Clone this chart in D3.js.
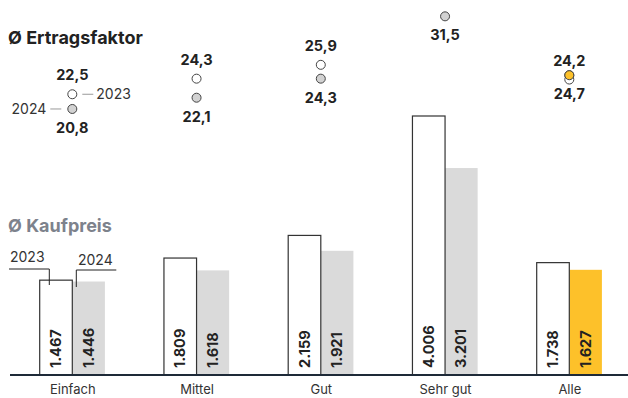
<!DOCTYPE html>
<html lang="de">
<head>
<meta charset="utf-8">
<title>Ertragsfaktor und Kaufpreis</title>
<script src="https://d3js.org/d3.v7.min.js"></script>
<style>
  body { margin: 0; background: #fff; }
  svg text { font-family: "Inter", "Liberation Sans", sans-serif; }
</style>
</head>
<body>
<div id="chart"></div>
<script>
// data
const categories = ["Einfach", "Mittel", "Gut", "Sehr gut", "Alle"];
const preis2023 = [1467, 1809, 2159, 4006, 1738];
const preis2024 = [1446, 1618, 1921, 3201, 1627];
const faktor2023 = [22.5, 24.3, 25.9, null, 24.2];
const faktor2024 = [20.8, 22.1, 24.3, 31.5, 24.7];

const width = 628, height = 398;
const baseY = 375;
const barW = 32.6;

const svg = d3.select("#chart").append("svg")
  .attr("width", width).attr("height", height);

const fmtPreis = d3.formatLocale({ decimal: ",", thousands: ".", grouping: [3], currency: ["", "€"] }).format(",d");
const fmtFaktor = d => d.toFixed(1).replace(".", ",");

// group centres
const x = d3.scalePoint().domain(categories).range([72.3, 569.3]);
const y = d3.scaleLinear().domain([0, 4006]).range([baseY, 116]);
const yf = d3.scaleLinear().domain([20, 32]).range([115.9, 12]);

// titles
svg.append("text").attr("x", 8).attr("y", 44)
  .attr("font-size", 18).attr("font-weight", 700).attr("fill", "#222")
  .text("Ø Ertragsfaktor");
svg.append("text").attr("x", 8).attr("y", 232)
  .attr("font-size", 18).attr("font-weight", 700).attr("fill", "#7d828c")
  .text("Ø Kaufpreis");

// bars
const rows = categories.map((c, i) => ({ c, i, a: preis2023[i], b: preis2024[i] }));

const g = svg.append("g");
g.selectAll("rect.b24").data(rows).join("rect")
  .attr("class", "b24")
  .attr("x", d => x(d.c))
  .attr("y", d => y(d.b))
  .attr("width", barW)
  .attr("height", d => baseY - y(d.b))
  .attr("fill", d => d.c === "Alle" ? "#fdc12a" : "#dadada");

g.selectAll("rect.b23").data(rows).join("rect")
  .attr("class", "b23")
  .attr("x", d => x(d.c) - barW)
  .attr("y", d => y(d.a))
  .attr("width", barW)
  .attr("height", d => baseY - y(d.a))
  .attr("fill", "#fff")
  .attr("stroke", "#333")
  .attr("stroke-width", 1.2);

// bar value labels
const lab = g.selectAll("g.vl").data(rows).join("g").attr("class", "vl");
lab.append("text")
  .attr("transform", d => `translate(${x(d.c) - barW / 2 + 5},368) rotate(-90)`)
  .attr("font-size", 14.5).attr("font-weight", 700).attr("fill", "#222")
  .text(d => fmtPreis(d.a));
lab.append("text")
  .attr("transform", d => `translate(${x(d.c) + barW / 2 + 5},368) rotate(-90)`)
  .attr("font-size", 14.5).attr("font-weight", 700).attr("fill", "#222")
  .text(d => fmtPreis(d.b));

// axis line
svg.append("line").attr("x1", 10).attr("x2", width).attr("y1", baseY).attr("y2", baseY)
  .attr("stroke", "#1e2a38").attr("stroke-width", 2);

const xAxis = d3.axisBottom(x).tickSize(0).tickPadding(10);
const ax = svg.append("g").attr("transform", `translate(0,${baseY})`).call(xAxis);
ax.select(".domain").remove();
ax.selectAll("text").attr("font-size", 13).attr("fill", "#333")
  .style("font-family", "Inter, 'Liberation Sans', sans-serif");

// bar legend
const leg = svg.append("g").attr("fill", "none").attr("stroke", "#222").attr("stroke-width", 1);
const x0 = x(categories[0]);
leg.append("polyline").attr("points", `9,269 ${x0 - 23},269 ${x0 - 23},285`);
leg.append("polyline").attr("points", `${x0 + 44},270 ${x0 + 4},270 ${x0 + 4},287`);
svg.append("text").attr("x", 10).attr("y", 262).attr("font-size", 14).attr("fill", "#333").text("2023");
svg.append("text").attr("x", 78).attr("y", 265).attr("font-size", 14).attr("fill", "#333").text("2024");

// dots
const dots = svg.append("g");
categories.forEach((c, i) => {
  const cx = x(c);
  if (faktor2024[i] != null) {
    dots.append("circle").attr("cx", cx).attr("cy", yf(faktor2024[i])).attr("r", 4.5)
      .attr("fill", c === "Alle" ? "#fdc12a" : "#d2d2d2").attr("stroke", "#444").attr("stroke-width", 1);
    dots.append("text").attr("x", cx).attr("y", yf(faktor2024[i]) + 24)
      .attr("text-anchor", "middle").attr("font-size", 14.5).attr("font-weight", 700).attr("fill", "#222")
      .text(fmtFaktor(faktor2024[i]));
  }
  if (faktor2023[i] != null) {
    dots.append("circle").attr("cx", cx).attr("cy", yf(faktor2023[i])).attr("r", 4.5)
      .attr("fill", "#fff").attr("stroke", "#444").attr("stroke-width", 1);
    dots.append("text").attr("x", cx).attr("y", yf(faktor2023[i]) - 14)
      .attr("text-anchor", "middle").attr("font-size", 14.5).attr("font-weight", 700).attr("fill", "#222")
      .text(fmtFaktor(faktor2023[i]));
  }
});
// re-draw Alle 2024 dot on top
dots.append("circle").attr("cx", x("Alle")).attr("cy", yf(faktor2024[4])).attr("r", 4.5)
  .attr("fill", "#fdc12a").attr("stroke", "#444").attr("stroke-width", 1);

// dot legend
const e = x(categories[0]);
svg.append("line").attr("x1", e + 10).attr("x2", e + 21).attr("y1", yf(faktor2023[0])).attr("y2", yf(faktor2023[0]))
  .attr("stroke", "#999").attr("stroke-width", 1);
svg.append("text").attr("x", e + 24).attr("y", yf(faktor2023[0]) + 5).attr("font-size", 14).attr("fill", "#333").text("2023");
svg.append("line").attr("x1", e - 22).attr("x2", e - 11).attr("y1", yf(faktor2024[0])).attr("y2", yf(faktor2024[0]))
  .attr("stroke", "#999").attr("stroke-width", 1);
svg.append("text").attr("x", e - 26).attr("y", yf(faktor2024[0]) + 5).attr("text-anchor", "end")
  .attr("font-size", 14).attr("fill", "#333").text("2024");
</script>
</body>
</html>
